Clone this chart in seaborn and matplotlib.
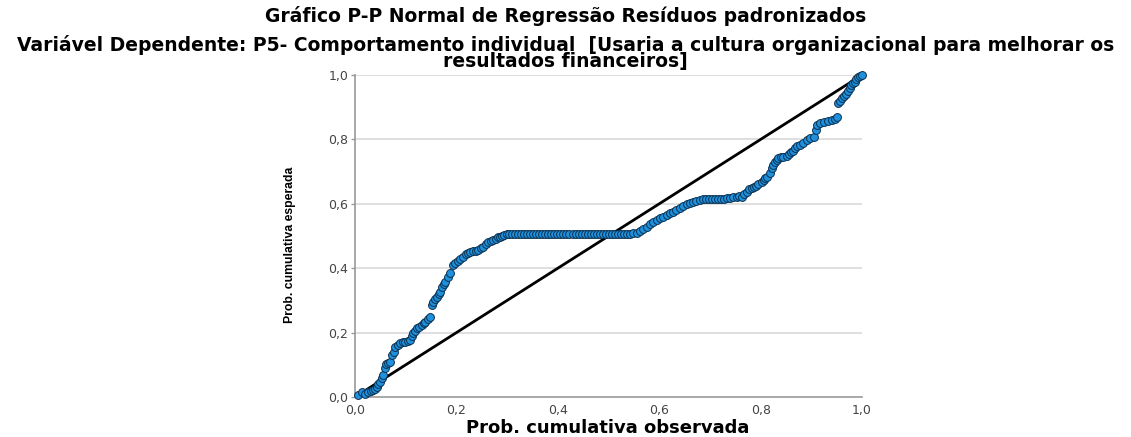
import matplotlib
matplotlib.use("Agg")
import matplotlib.pyplot as plt
import pandas as pd
import seaborn as sns

# observed vs expected cumulative probabilities
obs_rise = [0.005, 0.013, 0.020, 0.026, 0.031, 0.036, 0.040, 0.043, 0.046, 0.050,
            0.053, 0.056, 0.060, 0.062, 0.066, 0.069, 0.073, 0.076, 0.079, 0.084,
            0.089, 0.094, 0.099, 0.104, 0.108, 0.112, 0.115, 0.119, 0.122, 0.127,
            0.132, 0.136, 0.139, 0.143, 0.148, 0.151, 0.154, 0.158, 0.161, 0.165,
            0.168, 0.172, 0.175, 0.178, 0.183, 0.188, 0.193, 0.198, 0.203, 0.208,
            0.213, 0.218, 0.223, 0.227, 0.232, 0.238, 0.243, 0.248, 0.253, 0.258,
            0.263, 0.268, 0.273, 0.278, 0.282, 0.286, 0.289, 0.294, 0.299, 0.304]
exp_rise = [0.005, 0.016, 0.010, 0.016, 0.020, 0.022, 0.026, 0.030, 0.040, 0.048,
            0.058, 0.068, 0.090, 0.104, 0.106, 0.110, 0.130, 0.141, 0.156, 0.160,
            0.167, 0.170, 0.172, 0.175, 0.177, 0.190, 0.198, 0.205, 0.213, 0.218,
            0.224, 0.229, 0.234, 0.242, 0.249, 0.285, 0.296, 0.304, 0.311, 0.320,
            0.327, 0.341, 0.350, 0.358, 0.374, 0.386, 0.410, 0.415, 0.423, 0.428,
            0.436, 0.445, 0.448, 0.451, 0.452, 0.454, 0.458, 0.462, 0.467, 0.475,
            0.480, 0.485, 0.488, 0.492, 0.496, 0.498, 0.500, 0.503, 0.505, 0.507]

obs_flat = [0.309, 0.315, 0.321, 0.327, 0.333, 0.339, 0.345, 0.351, 0.357, 0.363,
            0.369, 0.375, 0.381, 0.387, 0.393, 0.399, 0.405, 0.411, 0.417, 0.423,
            0.429, 0.435, 0.441, 0.447, 0.453, 0.459, 0.465, 0.471, 0.477, 0.483,
            0.489, 0.495, 0.501, 0.507, 0.513, 0.519, 0.525, 0.531, 0.537, 0.543,
            0.549, 0.556]
exp_flat = [0.507, 0.507, 0.507, 0.507, 0.507, 0.507, 0.507, 0.507, 0.507, 0.507,
            0.507, 0.507, 0.507, 0.507, 0.507, 0.507, 0.507, 0.507, 0.507, 0.507,
            0.507, 0.507, 0.507, 0.507, 0.507, 0.507, 0.507, 0.507, 0.507, 0.507,
            0.507, 0.507, 0.507, 0.507, 0.507, 0.507, 0.507, 0.507, 0.507, 0.507,
            0.508, 0.509]

obs_mid = [0.562, 0.568, 0.575, 0.581, 0.588, 0.595, 0.602, 0.608, 0.615, 0.621,
           0.628, 0.634, 0.641, 0.647, 0.654, 0.660, 0.667, 0.673, 0.680, 0.686,
           0.692, 0.698, 0.704, 0.710, 0.716, 0.722, 0.728, 0.734, 0.740, 0.746,
           0.753]
exp_mid = [0.515, 0.522, 0.529, 0.537, 0.544, 0.550, 0.555, 0.560, 0.565, 0.570,
           0.575, 0.580, 0.586, 0.593, 0.599, 0.603, 0.606, 0.610, 0.612, 0.614,
           0.614, 0.614, 0.614, 0.615, 0.615, 0.615, 0.616, 0.617, 0.618, 0.620,
           0.622]

obs_top = [0.758, 0.763, 0.768, 0.773, 0.778, 0.782, 0.786, 0.790, 0.795, 0.802,
           0.806, 0.809, 0.813, 0.818, 0.822, 0.825, 0.828, 0.832, 0.835, 0.840,
           0.845, 0.851, 0.855, 0.860, 0.864, 0.868, 0.872, 0.878, 0.884, 0.891,
           0.898, 0.905, 0.909, 0.911, 0.918, 0.925, 0.932, 0.940, 0.946, 0.951,
           0.953, 0.957, 0.960, 0.964, 0.968, 0.972, 0.976, 0.979, 0.982, 0.986,
           0.989, 0.993, 0.996, 1.000]
exp_top = [0.624, 0.622, 0.630, 0.638, 0.645, 0.650, 0.653, 0.655, 0.660, 0.668,
           0.674, 0.680, 0.684, 0.695, 0.710, 0.720, 0.731, 0.736, 0.742, 0.744,
           0.746, 0.748, 0.755, 0.760, 0.765, 0.772, 0.778, 0.783, 0.790, 0.798,
           0.803, 0.808, 0.829, 0.846, 0.852, 0.855, 0.858, 0.861, 0.864, 0.868,
           0.913, 0.920, 0.928, 0.935, 0.941, 0.950, 0.959, 0.969, 0.975, 0.979,
           0.986, 0.995, 0.998, 1.000]

ticks = [0.0, 0.2, 0.4, 0.6, 0.8, 1.0]
tick_labels = ["0,0", "0,2", "0,4", "0,6", "0,8", "1,0"]

title1 = "Gráfico P-P Normal de Regressão Resíduos padronizados"
title2 = ("Variável Dependente: P5- Comportamento individual  [Usaria a cultura organizacional para melhorar os\n"
          "resultados financeiros]")

df = pd.DataFrame({
    "observed": obs_rise + obs_flat + obs_mid + obs_top,
    "expected": exp_rise + exp_flat + exp_mid + exp_top,
})

sns.set_style("white")
plt.rcParams['font.family'] = ['DejaVu Sans']
plt.rcParams['text.color'] = 'black'

fig = plt.figure(figsize=(11.31, 4.37), dpi=100)
ax = fig.add_axes([0.3139, 0.0915, 0.4483, 0.7369])

for t in ticks[1:]:
    ax.axhline(t, color="#d9d9d9", lw=1.2, zorder=0)

ax.plot([0, 1], [0, 1], color="black", lw=2.0, zorder=2)
sns.scatterplot(data=df, x="observed", y="expected", ax=ax, s=32,
                color="#1e90dc", edgecolor="#0c3050", linewidth=0.7,
                zorder=3, clip_on=False)

ax.set_xlim(0, 1)
ax.set_ylim(0, 1)
ax.set_xticks(ticks)
ax.set_xticklabels(tick_labels)
ax.set_yticks(ticks)
ax.set_yticklabels(tick_labels)
ax.tick_params(axis="both", labelsize=9, labelcolor="#444444", length=3,
               color="#999999", width=1, pad=2, left=True, bottom=False)
for side in ["top", "right"]:
    ax.spines[side].set_visible(False)
for side in ["left", "bottom"]:
    ax.spines[side].set_color("#999999")
    ax.spines[side].set_linewidth(1.2)

ax.set_xlabel("")
ax.set_ylabel("Prob. cumulativa esperada", fontsize=8.8, fontweight="bold",
              color="black", family=['Liberation Sans', 'DejaVu Sans'])
ax.yaxis.set_label_coords(-0.116, 0.472)

fig.text(0.5376, 0.021, "Prob. cumulativa observada", ha="center", va="center",
         fontsize=13, fontweight="bold")
fig.text(0.5, 0.963, title1, ha="center", va="center", fontsize=13.5, fontweight="bold")
fig.text(0.5, 0.879, title2, ha="center", va="center", fontsize=13.5, fontweight="bold",
         linespacing=0.8)

fig.savefig("out.png", dpi=100)
